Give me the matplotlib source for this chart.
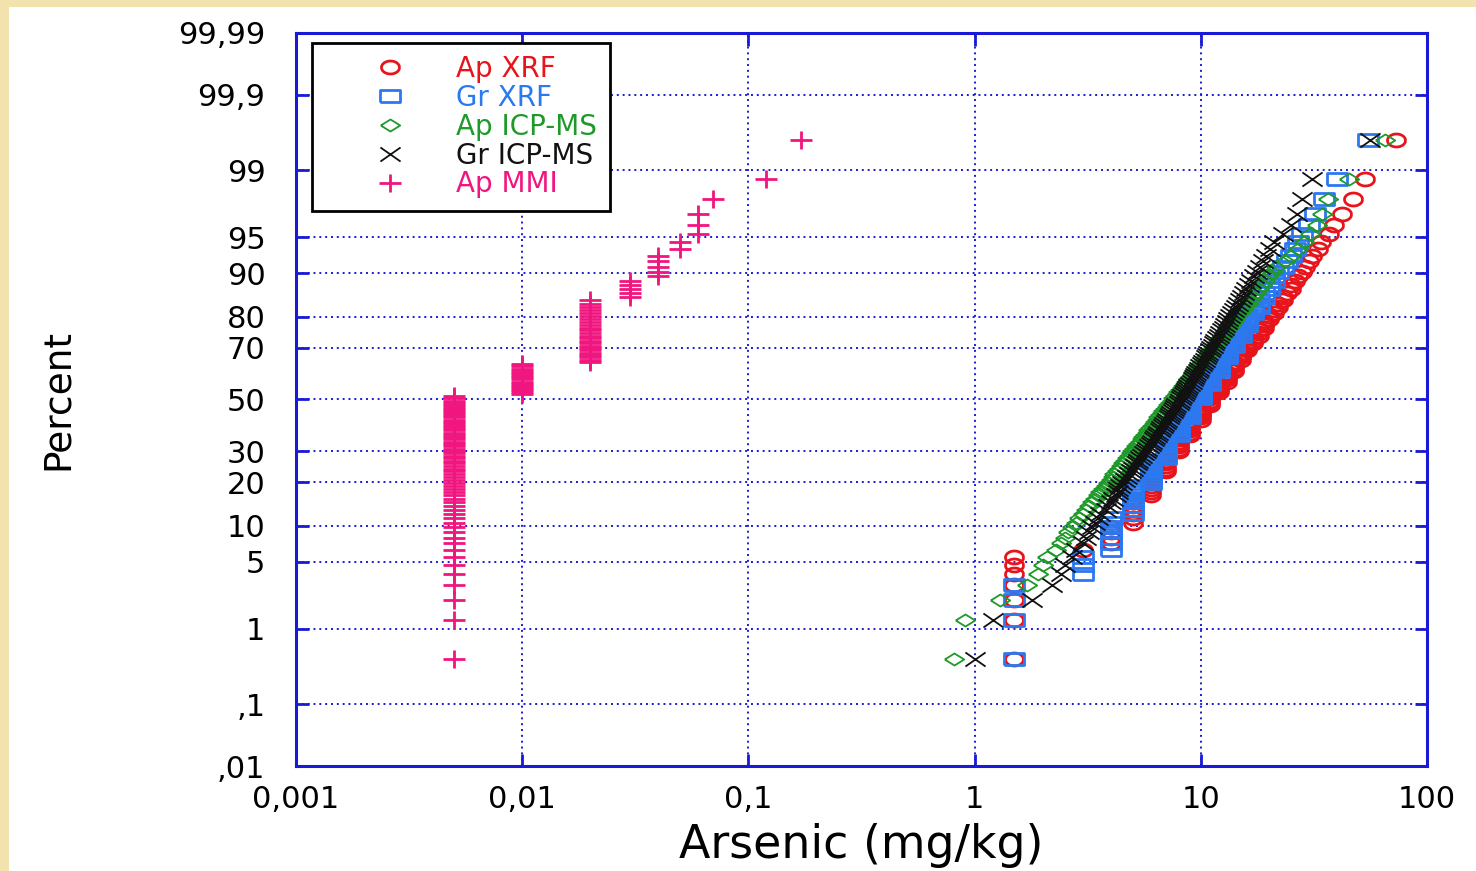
import numpy as np
import matplotlib
matplotlib.use("Agg")
import matplotlib.pyplot as plt
from matplotlib.patches import Rectangle
from matplotlib.path import Path
from matplotlib.ticker import NullLocator
from statistics import NormalDist

plt.rcParams['font.family'] = ['DejaVu Sans']

# Ap XRF (integer values, 1.5 = below detection)
ap_xrf_vals = [1.5, 3, 4, 5, 6, 7, 8, 9, 10, 11, 12, 13, 14, 15, 16, 17, 18, 19, 20,
               21, 22, 23, 24, 25, 26, 27, 28, 29, 30, 31, 33, 34, 37, 39, 42, 47, 53, 73]
ap_xrf_counts = [7, 1, 4, 7, 8, 8, 7, 7, 7, 6, 5, 5, 5, 4, 3, 3, 3, 3, 2,
                 2, 2, 2, 1, 2, 1, 1, 1, 1, 1, 1, 1, 1, 1, 1, 1, 1, 1, 1]

# Gr XRF
gr_xrf_vals = [1.5, 3, 4, 5, 6, 7, 8, 9, 10, 11, 12, 13, 14, 15, 16, 17, 18, 19, 20,
               21, 22, 23, 24, 25, 26, 27, 28, 30, 32, 35, 40, 55]
gr_xrf_counts = [4, 3, 7, 9, 9, 10, 8, 9, 7, 6, 6, 5, 4, 4, 4, 2, 3, 2, 2,
                 2, 1, 1, 1, 1, 1, 1, 1, 1, 1, 1, 1, 1]

# Ap ICP-MS
ap_icp = [0.81, 0.91, 1.3, 1.7, 1.9, 2.0, 2.1, 2.3, 2.4, 2.5,
          2.6, 2.7, 2.8, 2.9, 3.0, 3.1, 3.2, 3.3, 3.4, 3.5,
          3.6, 3.7, 3.8, 3.9, 4.0, 4.1, 4.15, 4.24, 4.33, 4.42,
          4.52, 4.61, 4.70, 4.80, 4.89, 4.98, 5.08, 5.17, 5.27, 5.37,
          5.47, 5.56, 5.66, 5.76, 5.87, 5.97, 6.08, 6.18, 6.29, 6.39,
          6.50, 6.62, 6.73, 6.84, 6.96, 7.08, 7.19, 7.31, 7.43, 7.56,
          7.69, 7.82, 7.95, 8.09, 8.22, 8.36, 8.50, 8.64, 8.79, 8.94,
          9.10, 9.25, 9.41, 9.58, 9.75, 9.92, 10.1, 10.3, 10.5, 10.7,
          10.9, 11.1, 11.3, 11.5, 11.7, 12.0, 12.2, 12.5, 12.7, 13.0,
          13.3, 13.6, 13.9, 14.2, 14.5, 14.9, 15.3, 15.6, 16.1, 16.5,
          17.0, 17.5, 18.0, 18.6, 19.2, 19.9, 20.7, 21.5, 23.5, 25.0,
          26.8, 28.5, 30.5, 32.5, 34.5, 36.6, 45.0, 65.0]

# Gr ICP-MS
gr_icp = [1.0, 1.2, 1.8, 2.2, 2.4, 2.5, 2.7, 2.8, 3.0, 3.1,
          3.2, 3.3, 3.4, 3.5, 3.6, 3.8, 3.9, 4.0, 4.1, 4.2,
          4.3, 4.3, 4.4, 4.5, 4.6, 4.7, 4.8, 4.9, 5.0, 5.1,
          5.2, 5.3, 5.4, 5.5, 5.6, 5.7, 5.8, 5.9, 6.0, 6.1,
          6.2, 6.3, 6.4, 6.5, 6.6, 6.7, 6.8, 6.9, 7.0, 7.1,
          7.2, 7.3, 7.4, 7.5, 7.6, 7.7, 7.8, 8.0, 8.1, 8.2,
          8.3, 8.4, 8.5, 8.6, 8.7, 8.8, 9.0, 9.1, 9.2, 9.3,
          9.4, 9.5, 9.7, 9.8, 9.9, 10.1, 10.2, 10.4, 10.5, 10.6,
          10.8, 11.0, 11.1, 11.3, 11.4, 11.6, 11.8, 12.0, 12.2, 12.4,
          12.6, 12.8, 13.0, 13.2, 13.5, 13.7, 14.0, 14.3, 14.6, 14.9,
          15.2, 15.5, 15.9, 16.3, 16.7, 17.2, 17.7, 18.2, 18.8, 19.5,
          20.3, 21.1, 23.0, 25.0, 26.5, 28.0, 31.0, 56.0]

# Ap MMI
ap_mmi_vals = [0.005, 0.01, 0.02, 0.03, 0.04, 0.05, 0.06, 0.07, 0.12, 0.17]
ap_mmi_counts = [61, 15, 24, 5, 5, 2, 3, 1, 1, 1]

y_ticks = [0.01, 0.1, 1, 5, 10, 20, 30, 50, 70, 80, 90, 95, 99, 99.9, 99.99]
y_labels = [',01', ',1', '1', '5', '10', '20', '30', '50', '70', '80', '90', '95', '99', '99,9', '99,99']
x_ticks = [0.001, 0.01, 0.1, 1, 10, 100]
x_labels = ['0,001', '0,01', '0,1', '1', '10', '100']

nd = NormalDist()
_ppf = np.vectorize(nd.inv_cdf, otypes=[float])
_cdf = np.vectorize(nd.cdf, otypes=[float])


def prob_fwd(p):
    p = np.clip(np.asarray(p, dtype=float), 1e-7, 100 - 1e-7)
    return _ppf(p / 100.0)


def prob_inv(z):
    return _cdf(np.asarray(z, dtype=float)) * 100.0


def plot_pos(vals):
    v = np.sort(np.asarray(vals, dtype=float))
    n = len(v)
    return v, (np.arange(1, n + 1) - 0.5) / n * 100


# markers in the original are squashed vertically
t = np.linspace(0, 2 * np.pi, 33)
ellipse = Path(np.column_stack([np.cos(t), 0.72 * np.sin(t)]))
rect = Path([(-1, -0.65), (1, -0.65), (1, 0.65), (-1, 0.65), (-1, -0.65)])
diamond = Path([(-1, 0), (0, 0.62), (1, 0), (0, -0.62), (-1, 0)])
cross = Path([(-1, -0.7), (1, 0.7), (-1, 0.7), (1, -0.7)],
             [Path.MOVETO, Path.LINETO, Path.MOVETO, Path.LINETO])
plus = Path([(-1, 0), (1, 0), (0, -0.8), (0, 0.8)],
            [Path.MOVETO, Path.LINETO, Path.MOVETO, Path.LINETO])

W, H = 1476, 871
fig = plt.figure(figsize=(W / 100, H / 100), dpi=100)
fig.patch.set_facecolor('#f2e2ae')
fig.add_artist(Rectangle((9 / W, 0), 1, 1 - 7 / H, transform=fig.transFigure,
                         facecolor='white', edgecolor='none', zorder=-5))

ax = fig.add_axes([296 / W, 1 - 766 / H, (1427 - 296) / W, (766 - 33) / H])
ax.set_xscale('log')
ax.set_yscale('function', functions=(prob_fwd, prob_inv))

series = [
    (np.repeat(ap_xrf_vals, ap_xrf_counts), 'Ap XRF', '#e8141b', dict(marker=ellipse, ms=13, mew=2.0)),
    (np.repeat(gr_xrf_vals, gr_xrf_counts), 'Gr XRF', '#2b78f0', dict(marker=rect, ms=14, mew=2.0)),
    (ap_icp, 'Ap ICP-MS', '#1f9a2a', dict(marker=diamond, ms=14, mew=1.3)),
    (gr_icp, 'Gr ICP-MS', '#111111', dict(marker=cross, ms=14.5, mew=1.3)),
    (np.repeat(ap_mmi_vals, ap_mmi_counts), 'Ap MMI', '#f0157f', dict(marker=plus, ms=16, mew=2.0)),
]

for vals, label, color, style in series:
    x, pp = plot_pos(vals)
    ax.plot(x, pp, linestyle='none', mfc='none', mec=color, label=label, **style)

ax.set_xlim(0.001, 100)
ax.set_ylim(0.01, 99.99)
ax.set_xticks(x_ticks)
ax.set_xticklabels(x_labels)
ax.xaxis.set_minor_locator(NullLocator())
ax.set_yticks(y_ticks)
ax.set_yticklabels(y_labels)
ax.yaxis.set_minor_locator(NullLocator())

blue = '#1a1ad6'
ax.grid(True, color=blue, linestyle=(0, (1, 2)), linewidth=1.4)
ax.set_axisbelow(True)
for s in ax.spines.values():
    s.set_color(blue)
    s.set_linewidth(2.2)
ax.tick_params(which='major', direction='in', length=9, width=2, color=blue,
               top=True, right=True, labelsize=22)
ax.tick_params(axis='y', pad=22)
ax.tick_params(axis='x', pad=14)

ax.set_xlabel('Arsenic (mg/kg)', fontsize=33)
ax.xaxis.set_label_coords(0.5, -0.078)
ax.set_ylabel('Percent', fontsize=27)
ax.yaxis.set_label_coords(-0.195, 0.5)

leg = ax.legend(loc='upper left', bbox_to_anchor=(0.014, 0.987), borderaxespad=0,
                fontsize=20, frameon=True, fancybox=False, edgecolor='black',
                handlelength=4.7, handletextpad=0.05, labelspacing=0.03,
                borderpad=0.45, labelcolor=[c for _, _, c, _ in series])
leg.get_frame().set_linewidth(2)
leg.get_frame().set_alpha(1)

fig.savefig('out.png', dpi=100, facecolor=fig.get_facecolor())
